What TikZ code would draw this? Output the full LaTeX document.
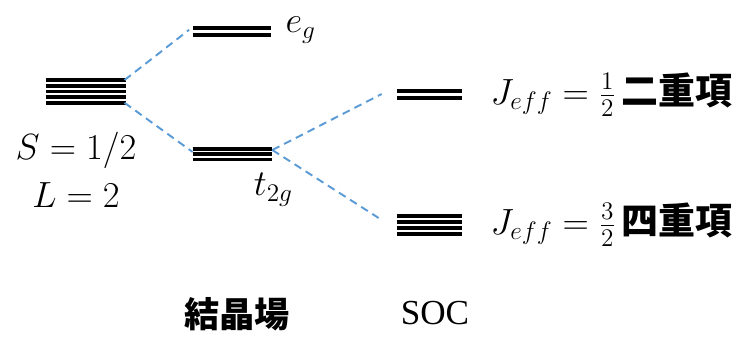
\documentclass[tikz,border=0pt]{standalone}
\usepackage{fontspec}
\newfontfamily\cjkfont{Noto Sans CJK JP}
\newfontfamily\socfont{Liberation Serif}
\usetikzlibrary{positioning}

\definecolor{splitblue}{RGB}{91,155,213}

\begin{document}
\begin{tikzpicture}[x=0.02cm, y=-0.02cm,
        level/.style={minimum width=#1, minimum height=0pt, inner sep=0pt},
        line/.style={line width=2.1pt, draw=black},
        split/.style={draw=splitblue, line width=1.1pt, dash pattern=on 4.5pt off 3pt},
        lab/.style={font=\fontsize{21}{26}\selectfont, inner sep=0pt}]

        % Fix the page size
        \useasboundingbox (0,0) rectangle (745,336);

        % Add the levels (top line of each stack)
        \node[level=1.6cm]  (free)    at (86,80)    {};
        \node[level=1.56cm] (e_g)     at (232,28)   {};
        \node[level=1.58cm] (t_2g)    at (232.5,149) {};
        \node[level=1.3cm]  (j_half)  at (429.5,91) {};
        \node[level=1.3cm]  (j_quart) at (429.5,216) {};

        % Draw the lines of each stack
        \foreach \i in {0,...,4}
            \draw[line] ([yshift=-\i*0.114cm]free.west) -- ([yshift=-\i*0.114cm]free.east);
        \foreach \i in {0,1}
            \draw[line] ([yshift=-\i*0.14cm]e_g.west) -- ([yshift=-\i*0.14cm]e_g.east);
        \foreach \i in {0,...,2}
            \draw[line] ([yshift=-\i*0.106cm]t_2g.west) -- ([yshift=-\i*0.106cm]t_2g.east);
        \foreach \i in {0,1}
            \draw[line] ([yshift=-\i*0.14cm]j_half.west) -- ([yshift=-\i*0.14cm]j_half.east);
        \foreach \i in {0,...,3}
            \draw[line] ([yshift=-\i*0.118cm]j_quart.west) -- ([yshift=-\i*0.118cm]j_quart.east);

        % Connect the levels with dashed lines
        \draw[split] ([xshift=-1pt]free.east) -- ([xshift=-2pt,yshift=-1pt]e_g.west);
        \draw[split] ([xshift=-1pt,yshift=-0.456cm]free.east) -- ([yshift=-0.06cm]t_2g.west);
        \draw[split] ([yshift=-0.02cm]t_2g.east) -- ([xshift=-0.3cm,yshift=-0.06cm]j_half.west);
        \draw[split] ([yshift=-0.02cm]t_2g.east) -- ([xshift=-0.36cm,yshift=-0.04cm]j_quart.west);

        % Add the labels
        \node[lab, align=center, anchor=north] (free_lab) at (76,132)
            {$S = 1/2$\\[1pt]$L = 2$};
        \node[lab, right=0.28cm of e_g.east, anchor=west, yshift=-0.04cm] (e_g_lab) {$e_g$};
        \node[lab, below=0.48cm of t_2g.east, xshift=0.02cm] (t_2g_lab) {$t_{2g}$};
        \node[lab, right=0.56cm of j_half.east, anchor=west, yshift=-0.07cm] (j_half_lab)
            {$J_{eff} = \frac{1}{2}$\,{\cjkfont\bfseries 二重項}};
        \node[lab, right=0.56cm of j_quart.east, anchor=west, yshift=-0.17cm] (j_quart_lab)
            {$J_{eff} = \frac{3}{2}$\,{\cjkfont\bfseries 四重項}};
        \node[lab, font=\fontsize{20}{24}\selectfont\cjkfont\bfseries] (cf_lab) at (237,314) {結晶場};
        \node[lab, font=\fontsize{20}{24}\selectfont\socfont] (soc_lab) at (435,313) {SOC};
\end{tikzpicture}
\end{document}
